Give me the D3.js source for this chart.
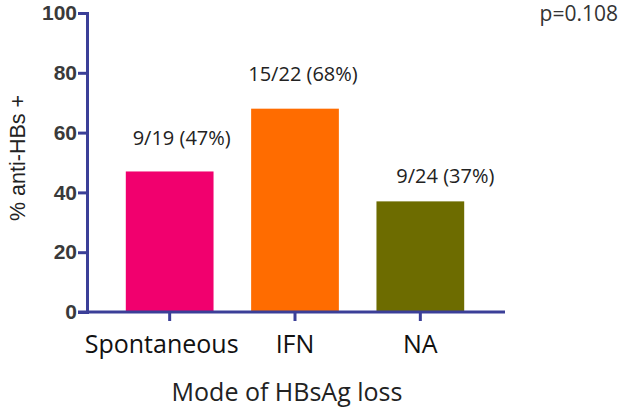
<!DOCTYPE html>
<html>
<head>
<meta charset="utf-8">
<script src="https://cdn.jsdelivr.net/npm/d3@7"></script>
<style>
  body { margin: 0; background: #fff; }
  svg { display: block; }
  text { font-family: "Open Sans", "Noto Sans", sans-serif; }
</style>
</head>
<body>
<div id="chart"></div>
<script>
// Data *****
var categories = ["Spontaneous", "IFN", "NA"];
var values = [47, 68, 37];
var barLabels = ["9/19 (47%)", "15/22 (68%)", "9/24 (37%)"];
var yTicks = [0, 20, 40, 60, 80, 100];
var colors = ["#f1006e", "#ff6c00", "#6d6c00"];

var width = 625, height = 413;
var axisColor = "#3b3f98";

var svg = d3.select("#chart").append("svg")
	.attr("width", width)
	.attr("height", height);

var y = d3.scaleLinear().domain([0, 100]).range([312, 13]);
var x = d3.scaleBand().domain(categories).range([107, 483]).paddingInner(0.3).paddingOuter(0.15);

// Bars
svg.selectAll("rect.bar")
	.data(values).enter()
	.append("rect")
	.attr("class", "bar")
	.attr("x", function(d, i) { return x(categories[i]); })
	.attr("width", x.bandwidth())
	.attr("y", function(d) { return y(d); })
	.attr("height", function(d) { return y(0) - y(d); })
	.style("fill", function(d, i) { return colors[i]; });

// Bar labels
var labelOffsets = [26, 28, 18];
var labelShift = [12, 8, 25];
svg.selectAll("text.bar-label")
	.data(barLabels).enter()
	.append("text")
	.attr("class", "bar-label")
	.attr("x", function(d, i) { return x(categories[i]) + x.bandwidth() / 2 + labelShift[i]; })
	.attr("y", function(d, i) { return y(values[i]) - labelOffsets[i]; })
	.attr("text-anchor", "middle")
	.attr("font-size", "20px")
	.style("fill", "#222")
	.text(function(d) { return d; });

// Y axis
var yAxis = d3.axisLeft(y).tickValues(yTicks).tickSize(9).tickPadding(1);
var gy = svg.append("g").attr("transform", "translate(87,0)").call(yAxis);
gy.select(".domain").attr("stroke", axisColor).attr("stroke-width", 3);
gy.selectAll(".tick line").attr("stroke", axisColor).attr("stroke-width", 3);
gy.selectAll(".tick text")
	.attr("font-size", "21px")
	.attr("font-weight", "bold")
	.style("font-family", "'Liberation Sans', Arial, sans-serif")
	.style("fill", "#3a3a3a");

// X axis
var xAxis = d3.axisBottom(x).tickSize(9).tickSizeOuter(0).tickPadding(14);
var gx = svg.append("g").attr("transform", "translate(0,312)").call(xAxis);
gx.select(".domain").attr("d", "M78,0H505").attr("stroke", axisColor).attr("stroke-width", 3);
gx.selectAll(".tick line").attr("stroke", axisColor).attr("stroke-width", 3);
gx.selectAll(".tick text")
	.attr("font-size", "25px")
	.style("fill", "#111");
gx.selectAll(".tick text").filter(function(d) { return d == "Spontaneous"; }).attr("dx", -8);

// Axis titles
svg.append("text")
	.attr("transform", "translate(25,158) rotate(-90)")
	.attr("text-anchor", "middle")
	.attr("font-size", "21.5px")
	.style("font-family", "'Liberation Sans', Arial, sans-serif")
	.style("fill", "#222")
	.text("% anti-HBs +");

svg.append("text")
	.attr("x", 287)
	.attr("y", 401)
	.attr("text-anchor", "middle")
	.attr("font-size", "25px")
	.style("fill", "#222")
	.text("Mode of HBsAg loss");

svg.append("text")
	.attr("x", 618)
	.attr("y", 21)
	.attr("text-anchor", "end")
	.attr("font-size", "21px")
	.style("fill", "#333")
	.text("p=0.108");
</script>
</body>
</html>
